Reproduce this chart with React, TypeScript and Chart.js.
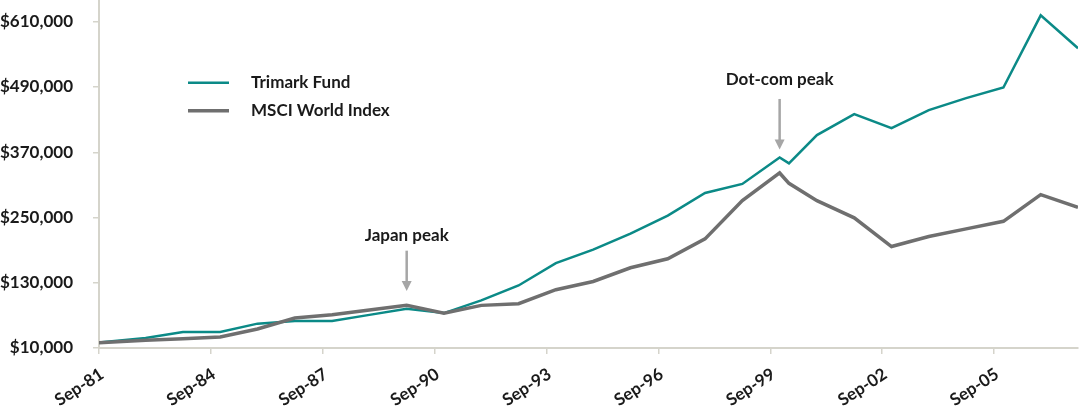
import React, { useEffect, useRef } from "react";
import { Chart, registerables } from "chart.js";

Chart.register(...registerables);

// ---- Data ----
const dates = [
  "1981-09", "1982-12", "1983-12", "1984-12", "1985-12", "1986-12", "1987-12",
  "1988-12", "1989-12", "1990-12", "1991-12", "1992-12", "1993-12", "1994-12",
  "1995-12", "1996-12", "1997-12", "1998-12", "1999-12", "2000-03", "2000-12",
  "2001-12", "2002-12", "2003-12", "2004-12", "2005-12", "2006-12", "2007-12",
];

const trimarkFund = [
  20000, 28400, 39400, 39400, 54800, 59500, 59500,
  70900, 82300, 74200, 97500, 125000, 166000, 191000,
  220500, 253500, 295000, 311700, 360500, 349500, 401600,
  440000, 414400, 447500, 469500, 489000, 621800, 561200,
];

const msciWorld = [
  19500, 24100, 27200, 30200, 44900, 65000, 71300,
  79700, 88400, 74200, 88400, 91500, 117200, 132400,
  157500, 174000, 210700, 281000, 331900, 312800, 281000,
  249300, 196600, 215000, 229100, 243000, 292000, 268700,
];

const seriesLabels = ["Trimark Fund", "MSCI World Index"];
const seriesColors = ["#0b8a87", "#6f6f6f"];

const yTickValues = [10000, 130000, 250000, 370000, 490000, 610000];
const yMin = 10000;
const yMax = 650000;

const xTickLabels = ["Sep-81", "Sep-84", "Sep-87", "Sep-90", "Sep-93", "Sep-96", "Sep-99", "Sep-02", "Sep-05"];

const annotationTexts = ["Japan peak", "Dot-com peak"];
const annotationDates = ["1989-12", "1999-12"];
const annotationTextValues = [217000, 503000];
const annotationArrowFrom = [189000, 468000];
const annotationArrowTo = [115000, 375000];

// ---- helpers ----
const MONTHS = ["Jan", "Feb", "Mar", "Apr", "May", "Jun", "Jul", "Aug", "Sep", "Oct", "Nov", "Dec"];
const isoToMonth = (s: string) => {
  const [y, m] = s.split("-").map(Number);
  return y * 12 + (m - 1);
};
const labelToMonth = (s: string) => {
  const [mon, yy] = s.split("-");
  const yr = Number(yy);
  const full = yr > 50 ? 1900 + yr : 2000 + yr;
  return full * 12 + MONTHS.indexOf(mon);
};
const monthToLabel = (v: number) => {
  const y = Math.floor(v / 12);
  const m = Math.round(v - y * 12);
  return `${MONTHS[m]}-${String(y % 100).padStart(2, "0")}`;
};

const FONT = "Lato";
const WEIGHT = "bold";
const SIZE = 17;
const TEXT_COLOR = "#1a1a1a";
const AXIS_COLOR = "#d5d4cb";

export default function App() {
  const canvasRef = useRef<HTMLCanvasElement | null>(null);

  useEffect(() => {
    if (!canvasRef.current) return;
    const xs = dates.map(isoToMonth);

    const legendPlugin = {
      id: "customLegend",
      afterDraw(chart: any) {
        const ctx = chart.ctx;
        ctx.save();
        seriesLabels.forEach((lab, i) => {
          const y = 82.7 + i * 28;
          ctx.strokeStyle = seriesColors[i];
          ctx.lineWidth = i === 0 ? 2.5 : 3.5;
          ctx.beginPath();
          ctx.moveTo(188, y);
          ctx.lineTo(229, y);
          ctx.stroke();
          ctx.fillStyle = TEXT_COLOR;
          ctx.font = `${WEIGHT} ${SIZE}px ${FONT}`;
          ctx.textAlign = "left";
          ctx.textBaseline = "middle";
          ctx.fillText(lab, 251, y);
        });
        ctx.restore();
      },
    };

    const annotationPlugin = {
      id: "peakAnnotations",
      afterDatasetsDraw(chart: any) {
        const ctx = chart.ctx;
        const xScale = chart.scales.x;
        const yScale = chart.scales.y;
        ctx.save();
        annotationTexts.forEach((t, i) => {
          const x = xScale.getPixelForValue(isoToMonth(annotationDates[i]));
          const ty = yScale.getPixelForValue(annotationTextValues[i]);
          const y0 = yScale.getPixelForValue(annotationArrowFrom[i]);
          const y1 = yScale.getPixelForValue(annotationArrowTo[i]);
          ctx.fillStyle = TEXT_COLOR;
          ctx.font = `${WEIGHT} ${SIZE}px ${FONT}`;
          ctx.textAlign = "center";
          ctx.textBaseline = "middle";
          ctx.fillText(t, x, ty);
          const head = 10;
          ctx.strokeStyle = "#a6a6a6";
          ctx.fillStyle = "#a6a6a6";
          ctx.lineWidth = 2.5;
          ctx.beginPath();
          ctx.moveTo(x, y0);
          ctx.lineTo(x, y1 - head + 1);
          ctx.stroke();
          ctx.beginPath();
          ctx.moveTo(x - 5, y1 - head);
          ctx.lineTo(x + 5, y1 - head);
          ctx.lineTo(x, y1);
          ctx.closePath();
          ctx.fill();
        });
        ctx.restore();
      },
    };

    const chart = new Chart(canvasRef.current, {
      type: "line",
      data: {
        datasets: [
          {
            label: seriesLabels[0],
            data: xs.map((x, i) => ({ x, y: trimarkFund[i] })),
            borderColor: seriesColors[0],
            backgroundColor: seriesColors[0],
            borderWidth: 2.5,
            pointRadius: 0,
            tension: 0,
            order: 1,
          },
          {
            label: seriesLabels[1],
            data: xs.map((x, i) => ({ x, y: msciWorld[i] })),
            borderColor: seriesColors[1],
            backgroundColor: seriesColors[1],
            borderWidth: 3.5,
            pointRadius: 0,
            tension: 0,
            order: 0,
          },
        ],
      },
      options: {
        animation: false,
        responsive: false,
        maintainAspectRatio: false,
        devicePixelRatio: 1,
        layout: { padding: { left: 0, right: 2, top: 0, bottom: 0 } },
        plugins: {
          legend: { display: false },
          tooltip: { enabled: false },
        },
        scales: {
          x: {
            type: "linear",
            min: xs[0],
            max: xs[xs.length - 1],
            afterBuildTicks: (scale: any) => {
              scale.ticks = xTickLabels.map((l) => ({ value: labelToMonth(l) }));
            },
            afterFit: (scale: any) => {
              scale.height = 60;
              scale.paddingLeft = 0;
              scale.paddingRight = 0;
            },
            ticks: {
              autoSkip: false,
              minRotation: 33,
              maxRotation: 33,
              padding: 10,
              labelOffset: 3,
              color: TEXT_COLOR,
              font: { family: FONT, size: SIZE, weight: WEIGHT },
              callback: (v: any) => monthToLabel(Number(v)),
            },
            grid: {
              display: true,
              drawOnChartArea: false,
              drawTicks: true,
              tickLength: 6,
              color: AXIS_COLOR,
              lineWidth: 1.5,
            },
            border: { display: true, color: AXIS_COLOR, width: 2 },
          },
          y: {
            type: "linear",
            min: yMin,
            max: yMax,
            afterBuildTicks: (scale: any) => {
              scale.ticks = yTickValues.map((v) => ({ value: v }));
            },
            afterFit: (scale: any) => {
              scale.width = 99;
              scale.paddingTop = 0;
              scale.paddingBottom = 0;
            },
            ticks: {
              padding: 20,
              color: TEXT_COLOR,
              font: { family: FONT, size: SIZE, weight: WEIGHT },
              callback: (v: any) => "$" + Number(v).toLocaleString("en-US"),
            },
            grid: {
              display: true,
              drawOnChartArea: false,
              drawTicks: true,
              tickLength: 6,
              color: AXIS_COLOR,
              lineWidth: 1.5,
            },
            border: { display: true, color: AXIS_COLOR, width: 2 },
          },
        },
      },
      plugins: [annotationPlugin, legendPlugin],
    } as any);

    return () => chart.destroy();
  }, []);

  return (
    <div style={{ position: "fixed", left: 0, top: 0, width: 1080, height: 408, background: "#ffffff" }}>
      <canvas ref={canvasRef} width={1080} height={408} style={{ display: "block", width: 1080, height: 408 }} />
    </div>
  );
}
